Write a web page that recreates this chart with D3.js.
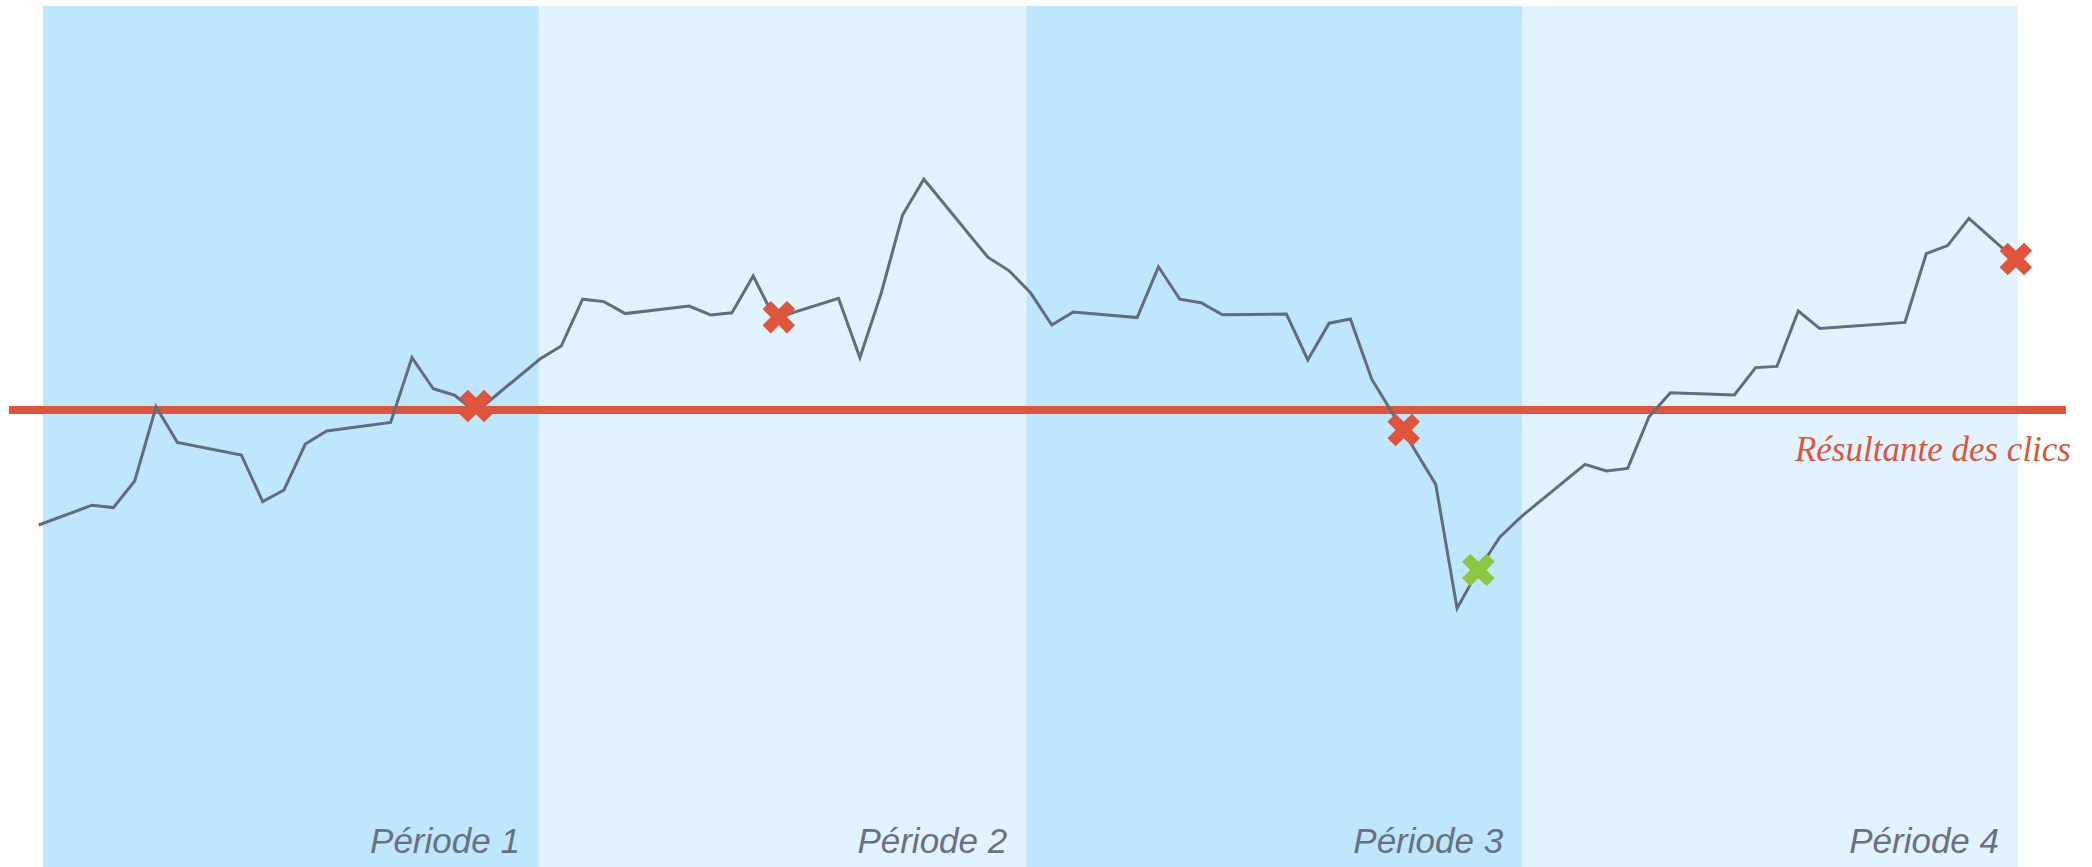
<!DOCTYPE html>
<html lang="fr">
<head>
<meta charset="utf-8">
<script src="https://cdn.jsdelivr.net/npm/d3@7"></script>
<style>
  html, body { margin: 0; padding: 0; background: #ffffff; }
  svg { display: block; }
</style>
</head>
<body>
<svg id="chart"></svg>
<script>
// Jours calendaires de cotation (0 = premier lundi) et valeurs de l'indice
const days = [-2.5, 0, 1, 2, 3, 4, 7, 8, 9, 10, 11, 14, 15, 16, 17, 18,
  21, 22, 23, 24, 25, 28, 29, 30, 31, 32, 35, 36, 37, 38, 39,
  42, 43, 44, 45, 46, 49, 50, 51, 52, 53, 56, 57, 58, 59, 60,
  63, 64, 65, 66, 67, 70, 71, 72, 73, 74, 77, 78, 79, 80, 81,
  85, 86, 87, 88, 90.2];
const values = [71.25, 76.2, 75.6, 82.25, 100.8, 91.9, 88.75, 77.1, 80, 91.5, 94.75, 96.9, 113.1, 105.3, 103.7, 99.5,
  112.75, 116, 127.7, 127.1, 124.1, 126, 123.75, 124.3, 133.5, 122.9, 127.9, 113.1, 129.2, 148.75, 157.7,
  138.2, 134.8, 129.3, 121.25, 124.5, 123.1, 135.8, 127.7, 126.8, 123.8, 124, 112.5, 121.7, 122.75, 107.7,
  81.4, 50.4, 60, 68.2, 73.3, 86.4, 84.75, 85.4, 98.3, 104.3, 103.75, 110.6, 110.9, 124.75, 120.4,
  121.9, 139.1, 141.1, 147.9, 137.5];

// Clics : moment, niveau, type
const clickDays = [18, 32.2, 61.5, 65, 90.2];
const clickValues = [101, 123.2, 95, 60, 137.75];
const clickTypes = ["vente", "vente", "vente", "achat", "vente"];

// Niveau résultant des clics
const resultante = 100;
const resultanteLabel = "Résultante des clics";

// Découpage en périodes
const periodBounds = [-2.3, 20.95, 43.8, 67.05, 90.3];
const periodLabels = ["Période 1", "Période 2", "Période 3", "Période 4"];

const W = 2092, H = 867;
const colors = {
  bandDark: "#BEE7FE",
  bandLight: "#E0F3FE",
  line: "#646B7B",
  red: "#DE553B",
  green: "#8DC63F",
  label: "#6B7080"
};

const svg = d3.select("#chart").attr("width", W).attr("height", H);

const x = d3.scaleLinear().domain([periodBounds[0], periodBounds[periodBounds.length - 1]]).range([43, 2018]);
const y = d3.scaleLinear().domain([0, 200]).range([810, 10]);

// Bandes de fond par période
const periods = periodLabels.map((label, i) => ({ label, start: periodBounds[i], end: periodBounds[i + 1], i }));
svg.append("g").selectAll("rect").data(periods).join("rect")
  .attr("x", d => x(d.start))
  .attr("y", 6)
  .attr("width", d => x(d.end) - x(d.start))
  .attr("height", H - 6)
  .attr("fill", d => d.i % 2 === 0 ? colors.bandDark : colors.bandLight);

// Libellés des périodes
svg.append("g").selectAll("text").data(periods).join("text")
  .attr("x", d => x(d.end) - 19)
  .attr("y", 853)
  .attr("text-anchor", "end")
  .attr("font-family", "'Liberation Sans', Arial, sans-serif")
  .attr("font-style", "italic")
  .attr("font-size", 35)
  .attr("fill", colors.label)
  .text(d => d.label);

// Ligne résultante
svg.append("line")
  .attr("x1", 9).attr("x2", 2066)
  .attr("y1", y(resultante)).attr("y2", y(resultante))
  .attr("stroke", colors.red)
  .attr("stroke-width", 8);

svg.append("text")
  .attr("x", 2071)
  .attr("y", y(resultante) + 51)
  .attr("text-anchor", "end")
  .attr("font-family", "'Liberation Serif', Georgia, serif")
  .attr("font-style", "italic")
  .attr("font-size", 35)
  .attr("fill", colors.red)
  .text(resultanteLabel);

// Courbe de l'indice
const series = days.map((d, i) => ({ day: d, value: values[i] }));
svg.append("path")
  .datum(series)
  .attr("fill", "none")
  .attr("stroke", colors.line)
  .attr("stroke-width", 3)
  .attr("stroke-linejoin", "miter")
  .attr("d", d3.line().x(d => x(d.day)).y(d => y(d.value)));

// Marqueurs de clics
const clicks = clickDays.map((d, i) => ({ day: d, value: clickValues[i], type: clickTypes[i] }));
const r = 11.5;
const cross = d3.symbol().type(d3.symbolCross).size(5 * r * r);
svg.append("g").selectAll("path").data(clicks).join("path")
  .attr("d", cross)
  .attr("transform", d => `translate(${x(d.day)},${y(d.value)}) rotate(45)`)
  .attr("fill", d => d.type === "achat" ? colors.green : colors.red);
</script>
</body>
</html>
